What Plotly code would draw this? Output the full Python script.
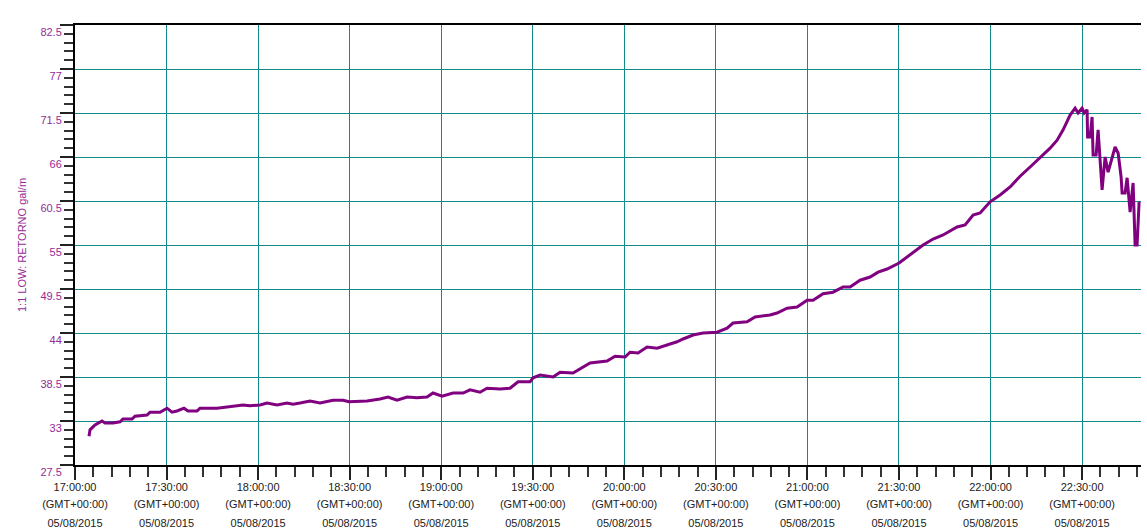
import plotly.graph_objects as go
import pandas as pd

# ---- data (minutes after 17:00:00, flow gal/m) ----
minutes = [4.59, 4.92, 6.55, 8.85, 9.83, 12.45, 14.75, 15.73, 18.68, 19.66,
           23.6, 24.58, 27.86, 30.15, 31.79, 33.43, 35.72, 37.03, 39.98, 40.96,
           46.53, 49.81, 55.05, 57.35, 60.63, 62.92, 66.2, 69.48, 71.44, 73.73,
           77.01, 80.29, 84.55, 87.83, 89.79, 95.69, 99.95, 102.57, 105.52, 108.8,
           112.08, 115.35, 117.32, 120.27, 123.87, 127.15, 129.45, 132.72, 135.02, 139.28,
           142.55, 145.18, 149.11, 150.09, 152.39, 156.65, 158.94, 163.2, 166.48, 168.77,
           174.34, 176.96, 180.24, 181.88, 184.5, 187.45, 190.73, 194.0, 197.28, 199.25,
           202.52, 205.8, 210.39, 213.67, 215.63, 220.22, 222.84, 227.76, 230.05, 233.33,
           236.6, 239.88, 241.85, 245.13, 248.4, 251.68, 253.98, 257.25, 260.53, 263.15,
           266.1, 270.03, 272.65, 274.62, 277.9, 281.17, 284.45, 289.04, 291.66, 294.28,
           296.58, 299.85, 303.13, 306.41, 309.68, 312.96, 316.24, 319.51, 321.81, 323.78,
           326.07, 327.71, 328.69, 330.0, 330.66, 331.64, 331.8, 332.62, 333.27, 333.6,
           334.59, 335.24, 336.55, 337.54, 338.52, 340.81, 341.8, 342.78, 343.11, 344.09,
           344.75, 345.73, 346.71, 347.37, 348.02, 348.68]
flow = [31.1, 31.9, 32.5, 33.0, 32.75, 32.75, 32.9, 33.25, 33.25, 33.6,
        33.75, 34.1, 34.1, 34.6, 34.1, 34.25, 34.6, 34.25, 34.25, 34.6,
        34.6, 34.75, 35.0, 34.9, 35.0, 35.25, 35.0, 35.25, 35.1, 35.25,
        35.5, 35.25, 35.6, 35.6, 35.4, 35.5, 35.75, 36.0, 35.6, 36.0,
        35.9, 36.0, 36.5, 36.1, 36.5, 36.5, 36.9, 36.6, 37.1, 37.0,
        37.1, 37.9, 37.9, 38.4, 38.75, 38.5, 39.1, 39.0, 39.75, 40.25,
        40.5, 41.1, 41.0, 41.6, 41.5, 42.25, 42.1, 42.5, 42.9, 43.25,
        43.75, 44.0, 44.1, 44.6, 45.25, 45.4, 46.0, 46.25, 46.5, 47.1,
        47.25, 48.1, 48.1, 48.9, 49.1, 49.75, 49.75, 50.6, 51.0, 51.6,
        52.0, 52.75, 53.5, 54.1, 55.0, 55.75, 56.25, 57.25, 57.5, 58.75,
        59.0, 60.4, 61.25, 62.25, 63.6, 64.75, 65.9, 67.1, 68.1, 69.4,
        71.25, 72.1, 71.5, 72.1, 71.5, 71.9, 68.5, 68.5, 71.0, 66.25,
        66.25, 69.4, 61.9, 66.0, 64.1, 67.25, 66.5, 63.5, 61.5, 61.5,
        63.4, 59.1, 62.75, 55.0, 55.0, 60.4]

x_tick_times = ["17:00:00", "17:30:00", "18:00:00", "18:30:00", "19:00:00", "19:30:00",
                "20:00:00", "20:30:00", "21:00:00", "21:30:00", "22:00:00", "22:30:00"]
x_tick_tz = "(GMT+00:00)"
x_tick_date = "05/08/2015"
y_ticks = [27.5, 33, 38.5, 44, 49.5, 55, 60.5, 66, 71.5, 77, 82.5]
y_tick_text = ["27.5", "33", "38.5", "44", "49.5", "55", "60.5", "66", "71.5", "77", "82.5"]
y_title = "1:1 LOW: RETORNO gal/m"

day = "2015-08-05"
base = pd.Timestamp(day + " 17:00:00")
x = [base + pd.Timedelta(minutes=m) for m in minutes]
tickvals = [pd.Timestamp(day + " " + t) for t in x_tick_times]
x_range = [base, base + pd.Timedelta(minutes=349.3)]

PURPLE = "#800080"
LABEL_PURPLE = "#942b94"
TEAL = "#108a8a"
FONT = "Liberation Sans"

fig = go.Figure()
fig.add_trace(go.Scatter(x=x, y=flow, mode="lines",
                         line=dict(color=PURPLE, width=3),
                         showlegend=False))
# helper traces so the extra label rows get drawn
for ax in ("x2", "x3"):
    fig.add_trace(go.Scatter(x=x_range, y=[None, None], xaxis=ax, yaxis="y",
                             showlegend=False, hoverinfo="skip"))

common_x = dict(type="date", range=x_range, tickmode="array", tickvals=tickvals)

fig.update_layout(
    width=1147, height=531,
    margin=dict(l=75, r=6, t=25, b=66, autoexpand=False),
    plot_bgcolor="white", paper_bgcolor="white",
    font=dict(family=FONT, size=11, color="#222"),
    xaxis=dict(**common_x, ticktext=x_tick_times,
               showgrid=True, gridcolor=TEAL, gridwidth=1,
               showline=True, linecolor="black", linewidth=2, mirror=True,
               ticks="outside", ticklen=13, tickwidth=2, tickcolor="#222",
               minor=dict(dtick=360000, tick0=base, ticks="outside", ticklen=10,
                          tickwidth=2, tickcolor="#333", showgrid=False),
               tickfont=dict(family=FONT, size=11, color="#222"),
               ticklabelstandoff=-2, zeroline=False),
    xaxis2=dict(**common_x, ticktext=[x_tick_tz] * len(x_tick_times),
                overlaying="x", anchor="y", side="bottom", matches="x",
                showgrid=False, showline=False, ticks="",
                tickfont=dict(family=FONT, size=11, color="#222"),
                ticklabelstandoff=31),
    xaxis3=dict(**common_x, ticktext=[x_tick_date] * len(x_tick_times),
                overlaying="x", anchor="y", side="bottom", matches="x",
                showgrid=False, showline=False, ticks="",
                tickfont=dict(family=FONT, size=11, color="#222"),
                ticklabelstandoff=50),
    yaxis=dict(range=[27.5, 82.5], tickmode="array", tickvals=y_ticks, ticktext=y_tick_text,
               showgrid=True, gridcolor=TEAL, gridwidth=1,
               showline=True, linecolor="black", linewidth=2,
               ticks="outside", ticklen=13, tickwidth=2, tickcolor="#222",
               minor=dict(dtick=1.1, tick0=27.5, ticks="outside", ticklen=9,
                          tickwidth=2, tickcolor="#333", showgrid=False),
               tickfont=dict(family=FONT, size=11, color=LABEL_PURPLE),
               ticklabelshift=7, ticklabelstandoff=-4, zeroline=False),
    annotations=[dict(text=y_title, textangle=-90, xref="paper", yref="paper",
                      x=-53 / 1066, y=0.5, xanchor="center", yanchor="middle",
                      showarrow=False, font=dict(family=FONT, size=11, color=LABEL_PURPLE))],
)

fig.write_html("out.html", config={"displayModeBar": False},
               post_script="document.body.style.margin='0px';document.body.style.overflow='hidden';")
